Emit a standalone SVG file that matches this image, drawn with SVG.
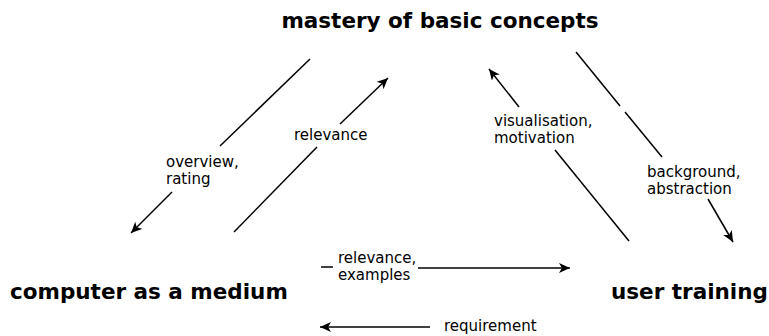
<svg xmlns="http://www.w3.org/2000/svg" width="769" height="336" viewBox="0 0 769 336">
  <style>
    .title { font-family: "DejaVu Sans", "Liberation Sans", sans-serif; font-weight: bold; font-size: 21.5px; fill: #000; }
    .lbl { font-family: "DejaVu Sans", "Liberation Sans", sans-serif; font-size: 15px; fill: #000; }
    .ln { stroke: #000; stroke-width: 1.5; fill: none; }
  </style>
  <defs>
    <marker id="ah" markerUnits="userSpaceOnUse" markerWidth="12" markerHeight="10" refX="11" refY="5" orient="auto">
      <path d="M0,0 L11,5 L0,10 L3,5 z" fill="#000"/>
    </marker>
  </defs>
  <rect width="769" height="336" fill="#fff"/>

  <g id="mastery">
    <text class="title" x="440" y="28" text-anchor="middle">mastery of basic concepts</text>
  </g>
  <g id="computer">
    <text class="title" x="10" y="299">computer as a medium</text>
  </g>
  <g id="training">
    <text class="title" x="611" y="299">user training</text>
  </g>

  <g id="connectors">
    <line class="ln" x1="310" y1="59" x2="220" y2="146"/>
    <line class="ln" x1="172" y1="192" x2="131" y2="233" marker-end="url(#ah)"/>
    <line class="ln" x1="234" y1="232" x2="317" y2="147"/>
    <line class="ln" x1="340" y1="124" x2="388" y2="78" marker-end="url(#ah)"/>
    <line class="ln" x1="629" y1="241" x2="555" y2="150"/>
    <line class="ln" x1="519" y1="107" x2="489" y2="69" marker-end="url(#ah)"/>
    <line class="ln" x1="576" y1="52" x2="620" y2="106"/>
    <line class="ln" x1="625" y1="112" x2="662" y2="157"/>
    <line class="ln" x1="708" y1="199" x2="733" y2="242" marker-end="url(#ah)"/>
    <line class="ln" x1="321" y1="267" x2="333" y2="267"/>
    <line class="ln" x1="418" y1="268" x2="570" y2="268" marker-end="url(#ah)"/>
    <line class="ln" x1="430" y1="327" x2="320" y2="327" marker-end="url(#ah)"/>
  </g>

  <g id="labels">
    <text class="lbl" x="166" y="167">overview,</text>
    <text class="lbl" x="166" y="184">rating</text>
    <text class="lbl" x="294" y="140">relevance</text>
    <text class="lbl" x="494" y="126">visualisation,</text>
    <text class="lbl" x="494" y="143">motivation</text>
    <text class="lbl" x="647" y="177">background,</text>
    <text class="lbl" x="647" y="194">abstraction</text>
    <text class="lbl" x="338" y="263">relevance,</text>
    <text class="lbl" x="338" y="280">examples</text>
    <text class="lbl" x="444" y="331">requirement</text>
  </g>
</svg>
